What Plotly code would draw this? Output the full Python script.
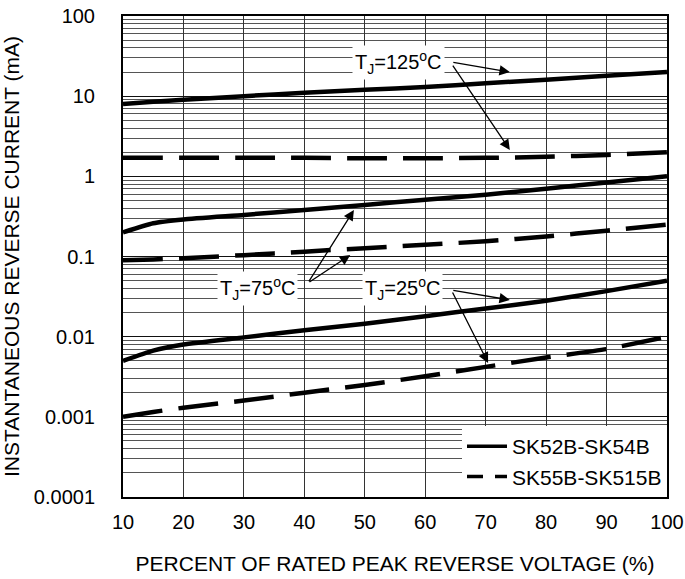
import plotly.graph_objects as go

# Data
voltage_pct = [10, 15, 20, 30, 40, 50, 60, 70, 80, 90, 100]

sk52_125 = [8.0, 8.5, 9.0, 10.0, 11.0, 12.0, 13.0, 14.5, 16.0, 18.0, 20.0]
sk55_125 = [1.7, 1.7, 1.7, 1.7, 1.7, 1.68, 1.68, 1.7, 1.75, 1.85, 2.0]
sk52_75 = [0.2, 0.26, 0.29, 0.33, 0.38, 0.44, 0.51, 0.59, 0.7, 0.84, 1.0]
sk55_75 = [0.09, 0.092, 0.095, 0.104, 0.115, 0.127, 0.14, 0.155, 0.178, 0.21, 0.25]
sk52_25 = [0.005, 0.0067, 0.008, 0.0098, 0.012, 0.0145, 0.018, 0.0225, 0.028, 0.037, 0.05]
sk55_25 = [0.001, 0.00115, 0.0013, 0.0016, 0.002, 0.0025, 0.0032, 0.0042, 0.0055, 0.007, 0.01]

y_tickvals = [100, 10, 1, 0.1, 0.01, 0.001, 0.0001]
y_ticktext = ["100", "10", "1", "0.1", "0.01", "0.001", "0.0001"]
x_tickvals = [10, 20, 30, 40, 50, 60, 70, 80, 90, 100]

legend_names = ["SK52B-SK54B", "SK55B-SK515B"]

FONT = "Liberation Sans"
DASH = "40px,16px"

fig = go.Figure()
for ys in [sk52_125, sk52_75, sk52_25]:
    fig.add_trace(go.Scatter(x=voltage_pct, y=ys, mode="lines", showlegend=False,
                             line=dict(color="black", width=4.5, shape="spline", smoothing=0.5)))
for ys in [sk55_125, sk55_75, sk55_25]:
    fig.add_trace(go.Scatter(x=voltage_pct, y=ys, mode="lines", showlegend=False,
                             line=dict(color="black", width=4.5, dash=DASH, shape="spline", smoothing=0.5)))

# legend-only traces
fig.add_trace(go.Scatter(x=[None], y=[None], mode="lines", name=legend_names[0],
                         line=dict(color="black", width=3.5)))
fig.add_trace(go.Scatter(x=[None], y=[None], mode="lines", name=legend_names[1],
                         line=dict(color="black", width=3.5, dash="16px,12px")))

labels = [
    (55.5, 1.426, "T<sub>J</sub>=125<sup>o</sup>C"),
    (32.3, -1.393, "T<sub>J</sub>=75<sup>o</sup>C"),
    (56.2, -1.393, "T<sub>J</sub>=25<sup>o</sup>C"),
]
for x, y, t in labels:
    fig.add_annotation(x=x, y=y, text=t, showarrow=False, bgcolor="white",
                       font=dict(family=FONT, size=20, color="black"), borderpad=2)

arrows = [
    (64.4, 1.426, 74.0, 1.301),
    (64.4, 1.40, 74.0, 0.329),
    (40.6, -1.330, 48.2, -0.420),
    (40.6, -1.330, 47.6, -0.981),
    (64.4, -1.418, 74.0, -1.542),
    (64.4, -1.430, 70.4, -2.328),
]
for ax, ay, x, y in arrows:
    fig.add_annotation(x=x, y=y, ax=ax, ay=ay, axref="x", ayref="y", xref="x", yref="y",
                       text="", showarrow=True, arrowhead=2, arrowsize=1.6, arrowwidth=1.3,
                       arrowcolor="black", standoff=0, startstandoff=0)

fig.update_layout(
    width=685, height=579,
    margin=dict(l=123, r=18, t=16, b=82),
    paper_bgcolor="white", plot_bgcolor="white",
    font=dict(family=FONT, size=20, color="black"),
    legend=dict(x=1, y=0, xanchor="right", yanchor="bottom", bgcolor="white",
                font=dict(family=FONT, size=21, color="black"),
                tracegroupgap=0, itemwidth=40),
)
fig.update_xaxes(range=[10, 100], tickvals=x_tickvals, showgrid=True, gridcolor="#333",
                 gridwidth=1, showline=True, linecolor="black", linewidth=2, mirror=True,
                 ticks="outside", ticklen=6, tickcolor="rgba(0,0,0,0)", zeroline=False,
                 automargin=False, ticklabeloverflow="allow",
                 title=dict(text="PERCENT OF RATED PEAK REVERSE VOLTAGE (%)",
                            font=dict(family=FONT, size=21), standoff=24),
                 tickfont=dict(family=FONT, size=20, color="black"))
fig.update_yaxes(type="log", range=[-4, 2], tickvals=y_tickvals, ticktext=y_ticktext,
                 showgrid=True, gridcolor="#111", gridwidth=1.2,
                 minor=dict(showgrid=True, gridcolor="#555", gridwidth=1, dtick="D1"),
                 showline=True, linecolor="black", linewidth=2, mirror=True,
                 ticks="outside", ticklen=22, tickcolor="rgba(0,0,0,0)",
                 zeroline=False, automargin=False, ticklabeloverflow="allow",
                 title=dict(text="INSTANTANEOUS REVERSE CURRENT (mA)",
                            font=dict(family=FONT, size=21), standoff=8),
                 tickfont=dict(family=FONT, size=20, color="black"))

# remove the default 8px page margin so the figure fills the window exactly
fig.write_html("out.html", config={"displayModeBar": False},
               post_script="document.body.style.margin='0';")
